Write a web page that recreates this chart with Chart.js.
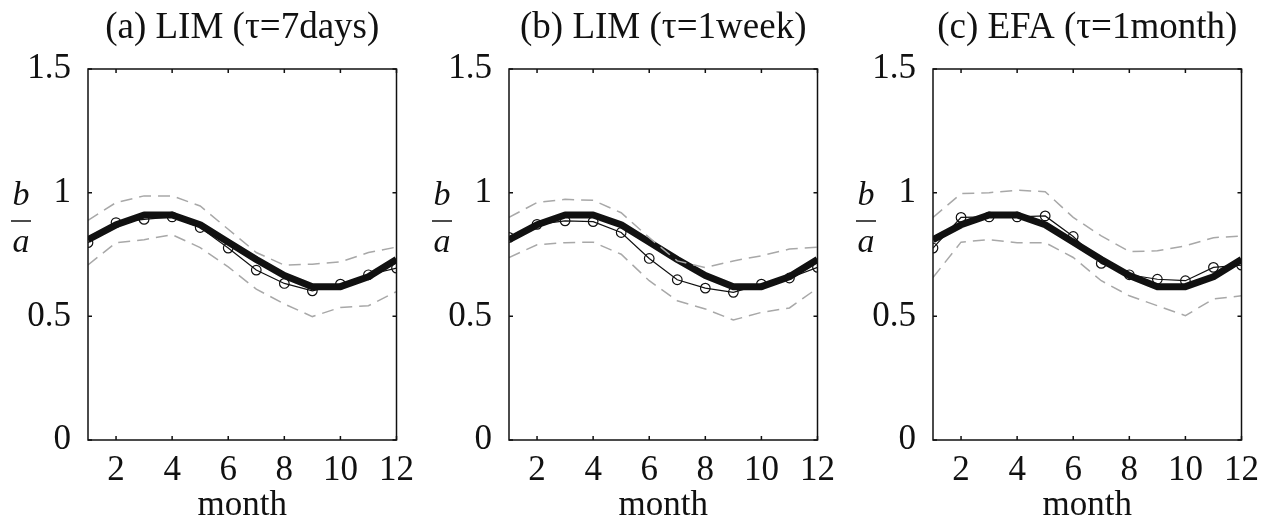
<!DOCTYPE html>
<html>
<head>
<meta charset="utf-8">
<script src="https://cdn.jsdelivr.net/npm/chart.js@4/dist/chart.umd.min.js"></script>
<style>
  body { margin: 0; background: #fff; overflow: hidden; width: 1261px; height: 520px; position: relative; }
  .panel { position: absolute; top: 0; width: 416px; height: 520px; }
</style>
</head>
<body>
<div class="panel" style="left:0px"><canvas id="chartA"></canvas></div>
<div class="panel" style="left:421px"><canvas id="chartB"></canvas></div>
<div class="panel" style="left:845px"><canvas id="chartC"></canvas></div>
<script>
// data
var months = [1, 2, 3, 4, 5, 6, 7, 8, 9, 10, 11, 12];
var xTicks = [2, 4, 6, 8, 10, 12];
var yTicks = [0, 0.5, 1, 1.5];
var titles = ['(a) LIM (\u03c4=7days)', '(b) LIM (\u03c4=1week)', '(c) EFA (\u03c4=1month)'];

// true ratio (thick line), same in all panels
var truth = [0.81, 0.87, 0.91, 0.91, 0.87, 0.80, 0.73, 0.665, 0.62, 0.62, 0.66, 0.73];

var estA = [0.798, 0.879, 0.892, 0.902, 0.859, 0.776, 0.687, 0.633, 0.603, 0.63, 0.668, 0.695];
var upA  = [0.888, 0.96, 0.987, 0.987, 0.946, 0.852, 0.758, 0.707, 0.711, 0.72, 0.758, 0.78];
var loA  = [0.708, 0.798, 0.81, 0.83, 0.778, 0.70, 0.61, 0.55, 0.499, 0.536, 0.543, 0.60];

var estB = [0.819, 0.872, 0.886, 0.883, 0.839, 0.734, 0.648, 0.614, 0.597, 0.63, 0.655, 0.698];
var upB  = [0.90, 0.96, 0.973, 0.969, 0.919, 0.818, 0.724, 0.697, 0.724, 0.745, 0.772, 0.78];
var loB  = [0.738, 0.789, 0.798, 0.80, 0.751, 0.644, 0.563, 0.53, 0.485, 0.516, 0.534, 0.614];

var estC = [0.776, 0.90, 0.902, 0.902, 0.906, 0.823, 0.714, 0.668, 0.65, 0.644, 0.698, 0.707];
var upC  = [0.90, 0.996, 1.0, 1.01, 1.004, 0.90, 0.825, 0.762, 0.765, 0.785, 0.818, 0.825];
var loC  = [0.657, 0.80, 0.81, 0.798, 0.798, 0.738, 0.644, 0.583, 0.543, 0.503, 0.57, 0.583];

var serif = '"Liberation Serif", "DejaVu Serif", serif';

function pts(vals) {
  return months.map(function (m, i) { return { x: m, y: vals[i] }; });
}

// box around the axes with inward ticks, plus the b/a fraction label
var framePlugin = {
  id: 'frame',
  afterDraw: function (chart) {
    var ctx = chart.ctx;
    var a = chart.chartArea;
    var xs = chart.scales.x, ys = chart.scales.y;
    ctx.save();
    ctx.strokeStyle = '#111';
    ctx.lineWidth = 1.5;
    ctx.strokeRect(a.left, a.top, a.right - a.left, a.bottom - a.top);
    ctx.beginPath();
    xTicks.forEach(function (v) {
      var px = xs.getPixelForValue(v);
      ctx.moveTo(px, a.bottom); ctx.lineTo(px, a.bottom - 4);
      ctx.moveTo(px, a.top); ctx.lineTo(px, a.top + 4);
    });
    yTicks.forEach(function (v) {
      var py = ys.getPixelForValue(v);
      ctx.moveTo(a.left, py); ctx.lineTo(a.left + 4, py);
      ctx.moveTo(a.right, py); ctx.lineTo(a.right - 4, py);
    });
    ctx.stroke();

    // y label b/a
    var cx = a.left - 67;
    ctx.fillStyle = '#111';
    ctx.font = 'italic 34px ' + serif;
    ctx.textAlign = 'center';
    ctx.textBaseline = 'alphabetic';
    ctx.fillText('b', cx, 205);
    ctx.fillText('a', cx, 252);
    ctx.beginPath();
    ctx.lineWidth = 1.5;
    ctx.moveTo(cx - 10, 221); ctx.lineTo(cx + 10, 221);
    ctx.stroke();
    ctx.restore();
  }
};

function makePanel(id, title, est, up, lo) {
  var c = document.getElementById(id).getContext('2d');
  return new Chart(c, {
    type: 'line',
    data: {
      datasets: [
        { data: pts(est), borderColor: '#111', borderWidth: 1.2, pointRadius: 4.8,
          pointBorderWidth: 1.2, pointBorderColor: '#111', pointBackgroundColor: 'rgba(0,0,0,0)', tension: 0 },
        { data: pts(up), borderColor: '#a8a8a8', borderWidth: 1.5, borderDash: [12, 7], pointRadius: 0, tension: 0 },
        { data: pts(lo), borderColor: '#a8a8a8', borderWidth: 1.5, borderDash: [12, 7], pointRadius: 0, tension: 0 },
        { data: pts(truth), borderColor: '#111', borderWidth: 7, pointRadius: 0, tension: 0, borderJoinStyle: 'round' }
      ]
    },
    options: {
      responsive: true,
      maintainAspectRatio: false,
      animation: false,
      layout: { autoPadding: false, padding: { left: 0, right: 12, top: 0, bottom: 0 } },
      plugins: {
        legend: { display: false },
        tooltip: { enabled: false },
        title: {
          display: true,
          text: title,
          fullSize: false,
          color: '#111',
          font: { family: serif, size: 37, weight: 'normal', lineHeight: 1.2 },
          padding: { top: 6, bottom: 18.6 }
        }
      },
      scales: {
        x: {
          type: 'linear',
          min: 1, max: 12,
          grid: { display: false },
          border: { display: false },
          afterBuildTicks: function (s) { s.ticks = xTicks.map(function (v) { return { value: v }; }); },
          afterFit: function (s) { s.height = 80; },
          ticks: { color: '#111', padding: 2, maxRotation: 0, font: { family: serif, size: 35 } },
          title: { display: true, text: 'month', color: '#111', padding: { top: 0, bottom: 0 },
                   font: { family: serif, size: 35, lineHeight: 0.8 } }
        },
        y: {
          min: 0, max: 1.5,
          grid: { display: false },
          border: { display: false },
          afterBuildTicks: function (s) { s.ticks = yTicks.map(function (v) { return { value: v }; }); },
          afterFit: function (s) { s.width = 88; },
          ticks: { color: '#111', padding: 9, font: { family: serif, size: 35 },
                   callback: function (v) { return String(v); } }
        }
      }
    },
    plugins: [framePlugin]
  });
}

makePanel('chartA', titles[0], estA, upA, loA);
makePanel('chartB', titles[1], estB, upB, loB);
makePanel('chartC', titles[2], estC, upC, loC);
</script>
</body>
</html>
